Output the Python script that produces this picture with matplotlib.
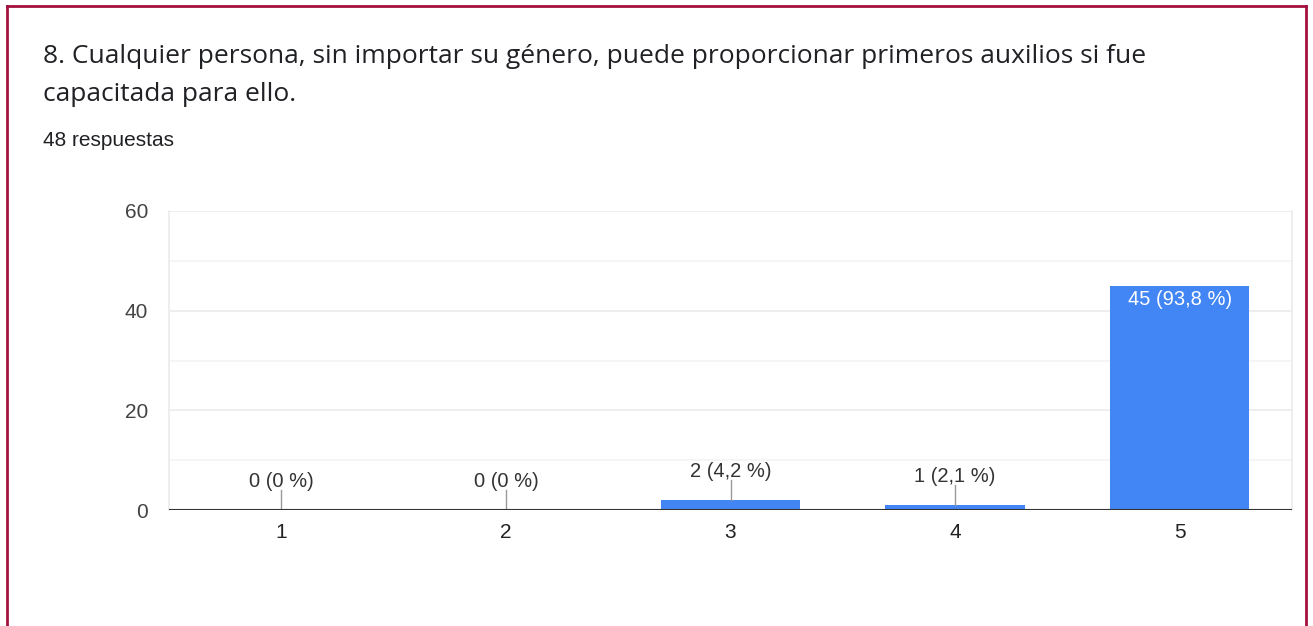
import matplotlib.pyplot as plt
from matplotlib.lines import Line2D

categories = ["1", "2", "3", "4", "5"]
counts = [0, 0, 2, 1, 45]
percents = ["0 %", "0 %", "4,2 %", "2,1 %", "93,8 %"]
yticks = [0, 20, 40, 60]

title_lines = ["8. Cualquier persona, sin importar su género, puede proporcionar primeros auxilios si fue",
               "capacitada para ello."]
subtitle = "48 respuestas"

W, H = 1313, 626
blue = "#4285F4"
lab_font = "Liberation Sans"

fig = plt.figure(figsize=(W / 100, H / 100), dpi=100)
fig.patch.set_facecolor("white")

# card outline (bottom edge runs off the image)
border = "#A3123F"
fig.add_artist(Line2D([7 / W, 7 / W], [0, 1 - 6 / H], color=border, lw=2))
fig.add_artist(Line2D([7 / W, 1306 / W], [1 - 6 / H, 1 - 6 / H], color=border, lw=2))
fig.add_artist(Line2D([1306 / W, 1306 / W], [0, 1 - 6 / H], color=border, lw=2))

for i, line in enumerate(title_lines):
    fig.text(43 / W, 1 - (63 + 38 * i) / H, line, family="Open Sans", fontsize=19,
             color="#202124", va="baseline")
fig.text(43 / W, 1 - 146 / H, subtitle, family=lab_font, fontsize=15, color="#202124",
         va="baseline")

ax = fig.add_axes([169 / W, (H - 510) / H, (1292 - 169) / W, (510 - 211) / H])
x = list(range(1, len(categories) + 1))

ax.set_xlim(0.5, 5.5)
ax.set_ylim(0, 60)

# grid: major every 20, minor every 10
for v in range(10, 61, 10):
    ax.axhline(v, color="#EBEBEB" if v % 20 == 0 else "#F4F4F4", lw=1.2, zorder=0)

ax.bar(x, counts, width=0.62, color=blue, zorder=2)

for xi, c, p in zip(x, counts, percents):
    label = f"{c} ({p})"
    if c > 10:
        ax.text(xi, c - 2.7, label, ha="center", va="center", color="white",
                family=lab_font, fontsize=14.5, zorder=3)
    else:
        ax.plot([xi, xi], [c, c + 4], color="#999999", lw=1, zorder=3)
        ax.text(xi, c + 5.7, label, ha="center", va="center", color="#333333",
                family=lab_font, fontsize=14.5, zorder=3)

ax.axhline(0, color="#333333", lw=1.5, zorder=4)

for side in ["top", "bottom"]:
    ax.spines[side].set_visible(False)
for side in ["left", "right"]:
    ax.spines[side].set_color("#EBEBEB")
    ax.spines[side].set_linewidth(1.2)

ax.set_yticks(yticks)
ax.set_yticklabels([str(t) for t in yticks], family=lab_font, fontsize=15, color="#444444")
ax.set_xticks(x)
ax.set_xticklabels(categories, family=lab_font, fontsize=15, color="#222222")
ax.tick_params(axis="both", length=0)
ax.tick_params(axis="y", pad=15)
ax.tick_params(axis="x", pad=9)

fig.savefig("out.png", dpi=100)
